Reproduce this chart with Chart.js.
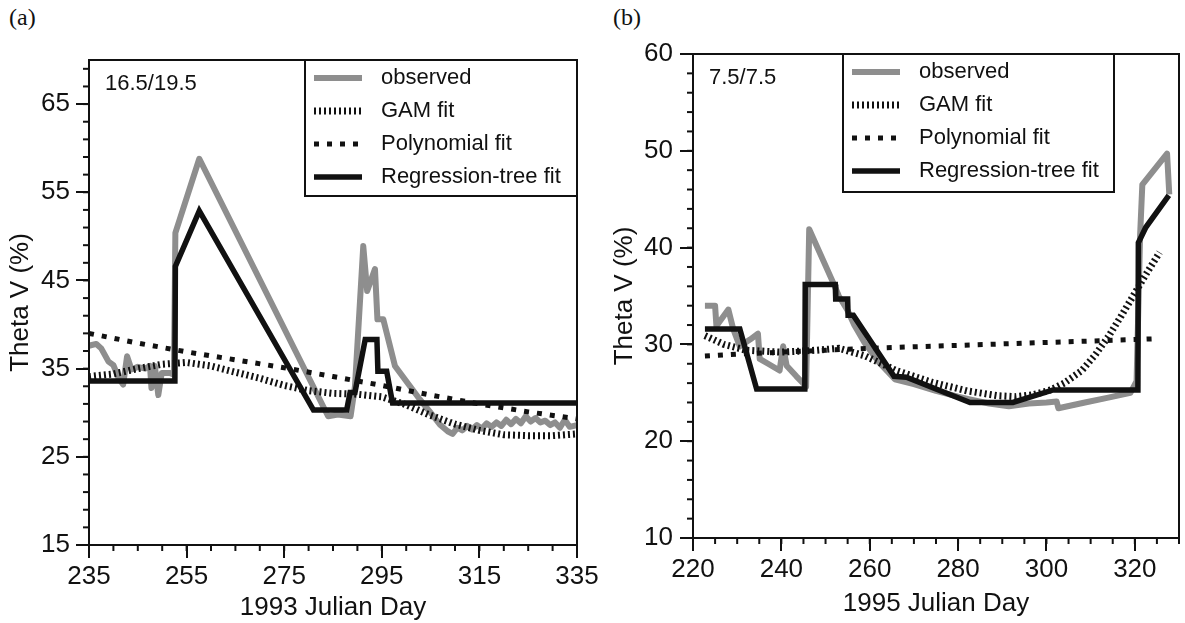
<!DOCTYPE html>
<html>
<head>
<meta charset="utf-8">
<script src="https://cdn.jsdelivr.net/npm/chart.js@4.4.0/dist/chart.umd.min.js"></script>
<style>
  body { margin: 0; background: #fff; width: 1185px; height: 623px; position: relative; overflow: hidden; }
  canvas { position: absolute; top: 0; }
  #chart93 { left: 0; }
  #chart95 { left: 600px; }
  .tag { position: absolute; top: 4px; font: 24px 'Liberation Serif', 'Times New Roman', serif; color: #111; }
</style>
</head>
<body>
<div class="tag" style="left:9px">(a)</div>
<div class="tag" style="left:613px">(b)</div>
<canvas id="chart93" width="605" height="623"></canvas>
<canvas id="chart95" width="585" height="623"></canvas>
<script>
// --- 1993, depth 16.5/19.5 ---
const obsDays93 = [235, 236.5, 237.5, 239, 240, 241, 242, 242.8, 243.7, 245, 246.5, 247.5, 247.8, 248.5, 249.2, 249.9, 251.6, 252.4, 252.7, 257.6,
  284, 286, 288.6, 289.5, 291.2, 292, 293.6, 294.1, 295.3, 297.7, 302.8, 305, 307, 308.5, 309.5, 310.5, 311.5, 312.5, 313.5, 314.5,
  315.5, 316.5, 317.5, 318.5, 319.5, 320.5, 321.5, 322.5, 323.5, 324.5, 325.5, 326.5, 327.5, 328.5, 329.5, 330.5, 331.5, 332.5, 333.5, 335];
const obsTheta93 = [37.6, 37.8, 37.3, 35.8, 35.4, 34.0, 33.2, 36.4, 34.9, 35.2, 35.0, 35.3, 32.8, 35.3, 32.0, 34.5, 34.5, 34.3, 50.4, 58.8,
  29.6, 29.8, 29.6, 33.0, 48.9, 43.8, 46.3, 40.6, 40.6, 35.3, 31.5, 30.0, 28.6, 27.9, 27.6, 28.3, 28.0, 28.5, 28.1, 28.6,
  28.2, 28.8, 28.4, 28.9, 28.5, 29.2, 28.7, 29.3, 28.8, 29.6, 29.0, 29.4, 28.9, 29.1, 28.6, 28.9, 28.3, 29.2, 28.4, 28.6];
const gamDays93 = [235, 240, 245, 250, 255, 260, 265, 270, 275, 280, 285, 290, 295, 300, 305, 310, 315, 320, 325, 330, 335];
const gamTheta93 = [34.1, 34.4, 35.0, 35.5, 35.7, 35.3, 34.6, 33.9, 33.1, 32.5, 32.2, 32.1, 31.8, 30.9, 29.7, 28.7, 28.0, 27.5, 27.4, 27.4, 27.6];
const polyDays93 = [235, 245, 255, 265, 275, 285, 295, 305, 315, 325, 335];
const polyTheta93 = [39.0, 37.9, 36.9, 36.0, 35.1, 34.1, 33.1, 32.0, 31.0, 30.1, 29.3];
const treeDays93 = [235, 252.6, 252.7, 257.6, 281, 287.8, 288.5, 289.5, 291.6, 294, 294.2, 296, 297.2, 335];
const treeTheta93 = [33.6, 33.6, 46.6, 52.9, 30.3, 30.3, 32.3, 32.3, 38.3, 38.3, 34.7, 34.7, 31.1, 31.1];
const xTicks93 = [235, 255, 275, 295, 315, 335];
const yTicks93 = [15, 25, 35, 45, 55, 65];

// --- 1995, depth 7.5/7.5 ---
const obsDays95 = [222.7, 225, 225.3, 228, 229.1, 230.6, 232.9, 234.7, 235.1, 237, 239.6, 240.4, 241.2, 243.4, 244.9, 245.6, 246.3, 251.9, 253, 255,
  256.5, 258.8, 262, 265.7, 270, 275, 280, 282.9, 287, 291.5, 296, 300, 302.3, 302.7, 308.7, 314, 319, 320.4, 321.2, 321.7, 327.3, 327.8];
const obsTheta95 = [34.0, 34.0, 31.9, 33.6, 31.6, 29.8, 30.5, 31.1, 28.5, 28.0, 27.3, 29.8, 27.8, 26.7, 26.0, 25.6, 41.9, 36.2, 35.0, 33.5,
  32.0, 30.2, 28.2, 26.4, 25.9, 25.2, 24.6, 24.3, 23.9, 23.6, 23.9, 24.0, 24.1, 23.4, 24.0, 24.5, 25.0, 26.2, 41.3, 46.5, 49.7, 45.5];
const gamDays95 = [222.7, 227, 232, 240, 248, 253, 259, 266, 274, 282, 289, 293, 297, 301, 304, 308, 311, 314, 317, 320, 323, 325.6];
const gamTheta95 = [30.9, 30.0, 29.4, 29.2, 29.4, 29.6, 28.8, 27.3, 26.1, 25.2, 24.7, 24.6, 24.8, 25.3, 26.0, 27.3, 28.9, 30.8, 33.0, 35.3, 37.6, 39.5];
const polyDays95 = [222.7, 230, 240, 250, 260, 270, 280, 290, 300, 310, 320, 325.6];
const polyTheta95 = [28.8, 29.0, 29.2, 29.4, 29.6, 29.75, 29.9, 30.05, 30.2, 30.35, 30.5, 30.6];
const treeDays95 = [222.7, 230.6, 234.4, 245.3, 245.4, 252.2, 252.3, 255, 255.1, 256.3, 265.5, 268.3, 282.7, 292.4, 301.5, 320.7, 320.8, 322.5, 327.7];
const treeTheta95 = [31.6, 31.6, 25.4, 25.4, 36.2, 36.2, 34.7, 34.7, 33.0, 33.0, 26.7, 26.6, 24.0, 24.0, 25.3, 25.3, 40.5, 42.1, 45.4];
const xTicks95 = [220, 240, 260, 280, 300, 320];
const yTicks95 = [10, 20, 30, 40, 50, 60];

const seriesNames = ['observed', 'GAM fit', 'Polynomial fit', 'Regression-tree fit'];

const FONT = "'Liberation Sans', Arial, Helvetica, sans-serif";
const INK = '#111';
Chart.defaults.font.family = FONT;
Chart.defaults.color = INK;

const pts = (xs, ys) => xs.map((x, i) => ({ x: x, y: ys[i] }));

// line looks, in the same order as seriesNames
const looks = [
  { borderColor: '#8e8e8e', borderWidth: 6, borderDash: [], borderJoinStyle: 'round', order: 3 },
  { borderColor: INK, borderWidth: 7, borderDash: [2, 3], order: 2 },
  { borderColor: INK, borderWidth: 5, borderDash: [5, 8], order: 1 },
  { borderColor: INK, borderWidth: 5.5, borderDash: [], order: 0 }
];

// frame, minor ticks, depth label and boxed legend
const framePlugin = {
  id: 'frame',
  afterDatasetsDraw(chart, args, o) {
    const { ctx, chartArea: a } = chart;
    const sx = chart.scales.x, sy = chart.scales.y;
    ctx.save();
    ctx.strokeStyle = INK;
    ctx.lineWidth = 2;
    ctx.setLineDash([]);
    for (let v = sx.min; v <= sx.max + 1e-6; v += o.xMinor) {
      const p = sx.getPixelForValue(v);
      ctx.beginPath(); ctx.moveTo(p, a.bottom); ctx.lineTo(p, a.bottom + 6); ctx.stroke();
    }
    for (let v = sy.min; v <= sy.max + 1e-6; v += o.yMinor) {
      const p = sy.getPixelForValue(v);
      ctx.beginPath(); ctx.moveTo(a.left, p); ctx.lineTo(a.left - 6, p); ctx.stroke();
    }
    ctx.strokeRect(a.left, a.top, a.right - a.left, a.bottom - a.top);

    ctx.fillStyle = INK;
    ctx.font = '22px ' + FONT;
    ctx.textBaseline = 'middle';
    ctx.textAlign = 'left';
    ctx.fillText(o.depth, a.left + 16, a.top + 24);

    const L = o.legend;
    const bx = a.right - L.right - L.w, by = a.top;
    ctx.fillStyle = '#fff';
    ctx.fillRect(bx, by, L.w, L.h);
    ctx.strokeRect(bx, by, L.w, L.h);
    chart.data.datasets.forEach((ds, i) => {
      const y = by + 18 + i * 33;
      ctx.strokeStyle = ds.borderColor;
      ctx.lineWidth = ds.borderWidth;
      ctx.setLineDash(ds.borderDash);
      ctx.beginPath(); ctx.moveTo(bx + 9, y); ctx.lineTo(bx + 57, y); ctx.stroke();
      ctx.setLineDash([]);
      ctx.fillStyle = INK;
      ctx.fillText(ds.label, bx + 76, y);
    });
    ctx.restore();
  }
};

function panel(id, c) {
  const series = [pts(c.obsX, c.obsY), pts(c.gamX, c.gamY), pts(c.polyX, c.polyY), pts(c.treeX, c.treeY)];
  return new Chart(document.getElementById(id), {
    type: 'line',
    data: {
      datasets: series.map((d, i) => Object.assign({
        label: seriesNames[i],
        data: d,
        pointRadius: 0,
        tension: 0,
        fill: false
      }, looks[i]))
    },
    options: {
      responsive: false,
      animation: false,
      devicePixelRatio: 1,
      layout: { padding: c.pad },
      plugins: {
        legend: { display: false },
        tooltip: { enabled: false },
        frame: { xMinor: 5, yMinor: 2, depth: c.depth, legend: c.legend }
      },
      scales: {
        x: {
          type: 'linear', min: c.xMin, max: c.xMax,
          afterBuildTicks: s => { s.ticks = c.xTicks.map(v => ({ value: v })); },
          afterFit: s => { s.height = c.xAxisH; },
          grid: { drawOnChartArea: false, tickLength: 13, color: INK, lineWidth: 2 },
          border: { display: false },
          ticks: { font: { size: 26 }, color: INK, padding: 3, maxRotation: 0, autoSkip: false },
          title: { display: true, text: c.xTitle, font: { size: 26, lineHeight: 1.2 }, color: INK, padding: { top: 0, bottom: c.xTitlePad } }
        },
        y: {
          type: 'linear', min: c.yMin, max: c.yMax,
          afterBuildTicks: s => { s.ticks = c.yTicks.map(v => ({ value: v })); },
          afterFit: s => { s.width = c.yAxisW; },
          grid: { drawOnChartArea: false, tickLength: 13, color: INK, lineWidth: 2 },
          border: { display: false },
          ticks: { font: { size: 26 }, color: INK, padding: c.yTickPad, autoSkip: false },
          title: { display: true, text: 'Theta V (%)', font: { size: 26, lineHeight: 1.2 }, color: INK, padding: { top: c.yTitlePad, bottom: 0 } }
        }
      }
    },
    plugins: [framePlugin]
  });
}

panel('chart93', {
  obsX: obsDays93, obsY: obsTheta93, gamX: gamDays93, gamY: gamTheta93,
  polyX: polyDays93, polyY: polyTheta93, treeX: treeDays93, treeY: treeTheta93,
  xMin: 235, xMax: 335, yMin: 15, yMax: 70, xTicks: xTicks93, yTicks: yTicks93,
  xTitle: '1993 Julian Day', depth: '16.5/19.5',
  pad: { left: 0, right: 28, top: 60, bottom: 0 },
  xAxisH: 78, yAxisW: 89, yTickPad: 6, yTitlePad: 5, xTitlePad: 0,
  legend: { right: 0, w: 272, h: 136 }
});

panel('chart95', {
  obsX: obsDays95, obsY: obsTheta95, gamX: gamDays95, gamY: gamTheta95,
  polyX: polyDays95, polyY: polyTheta95, treeX: treeDays95, treeY: treeTheta95,
  xMin: 220, xMax: 330, yMin: 10, yMax: 60, xTicks: xTicks95, yTicks: yTicks95,
  xTitle: '1995 Julian Day', depth: '7.5/7.5',
  pad: { left: 0, right: 6, top: 54, bottom: 0 },
  xAxisH: 85, yAxisW: 93, yTickPad: 7, yTitlePad: 9, xTitlePad: 4,
  legend: { right: 65, w: 271, h: 138 }
});
</script>
</body>
</html>
